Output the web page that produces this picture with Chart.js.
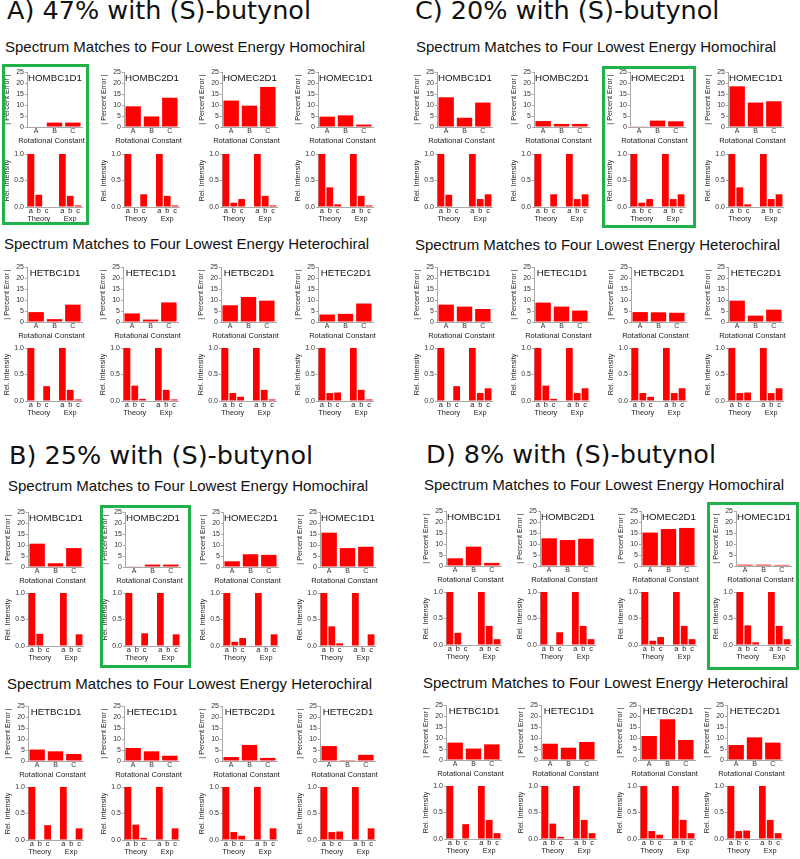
<!DOCTYPE html>
<html>
<head>
<meta charset="utf-8">
<script src="https://cdn.jsdelivr.net/npm/chart.js@4.4.1/dist/chart.umd.min.js"></script>
<style>
  html, body { margin:0; padding:0; background:#fff; }
  #root { position:relative; width:800px; height:859px; overflow:hidden; background:#fff; }
  .ttl { position:absolute; font-family:'DejaVu Sans', Verdana, sans-serif; font-size:25.5px; line-height:25.5px; color:#111; white-space:nowrap; }
  .sub { position:absolute; font-family:'Liberation Sans', Arial, sans-serif; font-size:15px; line-height:15px; color:#111; white-space:nowrap; }
  .nm { position:absolute; font-family:'Liberation Sans', Arial, sans-serif; font-size:9.7px; line-height:9.7px; color:#111; white-space:nowrap; width:80px; text-align:center; }
  .rc { position:absolute; font-family:'Liberation Sans', Arial, sans-serif; font-size:7.6px; line-height:7.6px; color:#222; white-space:nowrap; width:90px; text-align:center; }
  .box { position:absolute; border:3px solid #22b24c; box-sizing:border-box; }
  canvas { position:absolute; }
</style>
</head>
<body>
<div id="root"></div>
<script>
// ---------------- data ----------------
const panelTitles = ['A) 47% with (S)-butynol', 'B) 25% with (S)-butynol', 'C) 20% with (S)-butynol', 'D) 8% with (S)-butynol'];
const homoSubtitle = 'Spectrum Matches to Four Lowest Energy Homochiral';
const heteroSubtitle = 'Spectrum Matches to Four Lowest Energy Heterochiral';
const homoNames = ['HOMBC1D1', 'HOMBC2D1', 'HOMEC2D1', 'HOMEC1D1'];
const heteroNames = ['HETBC1D1', 'HETEC1D1', 'HETBC2D1', 'HETEC2D1'];
const rotConstants = ['A', 'B', 'C'];
const lineLabels = ['a', 'b', 'c'];
const groupLabels = ['Theory', 'Exp'];
const errorTicks = [0, 5, 10, 15, 20, 25];
const intensityTicks = [0, 0.5, 1];

// theoretical relative intensities (a, b, c) of each conformer
const theoryHomo = [[1, 0.23, 0.01], [1, 0, 0.24], [1, 0.08, 0.15], [1, 0.37, 0.05]];
const theoryHetero = [[1, 0, 0.28], [1, 0.29, 0.04], [1, 0.15, 0.08], [1, 0.15, 0.16]];

// experimental relative intensities (a, b, c) of each mixture
const expA = [1, 0.21, 0.03];
const expB = [1, 0, 0.22];
const expC = [1, 0.15, 0.24];
const expD = [1, 0.36, 0.11];

// |percent error| of rotational constants A, B, C
const errHomoA = [[0.2, 2.0, 2.0], [9.4, 4.8, 13.3], [12.0, 9.7, 18.2], [4.7, 5.3, 1.1]];
const errHeteroA = [[4.5, 1.3, 7.9], [3.9, 1.1, 8.9], [7.6, 11.4, 9.7], [3.4, 3.7, 8.4]];
const errHomoB = [[10.6, 1.7, 8.6], [0.3, 1.1, 1.1], [2.6, 5.8, 5.5], [15.6, 8.6, 9.2]];
const errHeteroB = [[5.2, 4.4, 3.2], [5.9, 4.4, 2.4], [1.8, 7.3, 1.4], [6.8, 0.4, 2.8]];
const errHomoC = [[13.5, 4.2, 11.1], [2.7, 1.4, 1.4], [0.3, 2.9, 2.6], [18.5, 11.1, 11.7]];
const errHeteroC = [[7.9, 7.0, 5.9], [8.8, 7.0, 5.2], [4.5, 4.4, 4.2], [9.7, 2.9, 5.6]];
const errHomoD = [[3.5, 8.8, 1.4], [12.6, 11.8, 12.4], [15.2, 16.8, 17.3], [0.6, 0.6, 0.5]];
const errHeteroD = [[7.9, 5.2, 7.1], [7.4, 5.6, 8.2], [10.9, 18.5, 9.1], [6.8, 10.3, 7.9]];

// best matching homochiral conformer (index) for each mixture A, B, C, D
const bestMatch = [0, 1, 2, 3];

// ---------------- layout ----------------
const panels = [
  { title: panelTitles[0], exp: expA, homo: errHomoA, het: errHeteroA, best: bestMatch[0],
    x0: 0, titleX: 7, titleBase: 20, subX: 5, subBase: 52, hSubX: 4, hSubBase: 249,
    L: [27, 124, 222, 318], LH: [27, 123, 221, 318], pt: 72, it: 154, hpt: 267, hit: 348, box: [2, 64, 87, 161] },
  { title: panelTitles[1], exp: expB, homo: errHomoB, het: errHeteroB, best: bestMatch[1],
    x0: 0, titleX: 9, titleBase: 465, subX: 8, subBase: 491, hSubX: 7, hSubBase: 689,
    L: [28, 125, 223, 320], LH: [28, 124, 222, 320], pt: 512, it: 593, hpt: 706, hit: 787, box: [100, 505, 91, 163] },
  { title: panelTitles[2], exp: expC, homo: errHomoC, het: errHeteroC, best: bestMatch[2],
    x0: 400, titleX: 15, titleBase: 20, subX: 16, subBase: 52, hSubX: 15, hSubBase: 250,
    L: [37, 134, 230, 328], LH: [37, 134, 231, 328], pt: 72, it: 154, hpt: 267, hit: 348, box: [602, 66, 94, 162] },
  { title: panelTitles[3], exp: expD, homo: errHomoD, het: errHeteroD, best: bestMatch[3],
    x0: 400, titleX: 26, titleBase: 464, subX: 24, subBase: 490, hSubX: 23, hSubBase: 688,
    L: [46, 140, 241, 336], LH: [46, 141, 240, 327], pt: 511, it: 592, hpt: 705, hit: 786, box: [707, 502, 92, 168] }
];

const RED = '#ff0000';
const AXIS = '#a8a8a8';
const TICK = '#333';
const FONT = "'Liberation Sans', Arial, sans-serif";
Chart.defaults.font.family = FONT;

const root = document.getElementById('root');

function addDiv(cls, text, left, top) {
  const d = document.createElement('div');
  d.className = cls;
  d.textContent = text;
  d.style.left = left + 'px';
  d.style.top = top + 'px';
  root.appendChild(d);
  return d;
}
function addCanvas(left, top, w, h) {
  const c = document.createElement('canvas');
  c.width = w; c.height = h;
  c.style.left = left + 'px'; c.style.top = top + 'px';
  c.style.width = w + 'px'; c.style.height = h + 'px';
  root.appendChild(c);
  return c;
}

const PLOT_W = 55, Y_W = 27, PAD_TOP = 6;

function yScale(max, step, titleText, fmt) {
  return {
    min: 0, max: max,
    afterFit: s => { s.width = Y_W; },
    grid: { display: true, drawOnChartArea: false, drawTicks: true, tickLength: 2, color: AXIS },
    border: { display: true, color: AXIS, width: 1 },
    ticks: { stepSize: step, autoSkip: false, font: { size: 7 }, color: TICK, padding: 1, callback: fmt },
    title: { display: true, text: titleText, font: { size: 7.2 }, color: '#222', padding: { top: 3, bottom: 0 } }
  };
}

function errorChart(left, top, values) {
  const h = PAD_TOP + 55 + 20;
  const c = addCanvas(left, top - PAD_TOP, Y_W + PLOT_W + 8, h);
  new Chart(c, {
    type: 'bar',
    data: { labels: rotConstants, datasets: [{ data: values, backgroundColor: RED, borderWidth: 0, barPercentage: 0.84, categoryPercentage: 1 }] },
    options: {
      responsive: false, animation: false, events: [],
      layout: { padding: { top: PAD_TOP, right: 8, left: 0, bottom: 0 } },
      plugins: { legend: { display: false }, tooltip: { enabled: false }, title: { display: false } },
      scales: {
        x: {
          afterFit: s => { s.height = 20; },
          grid: { display: false, drawTicks: false },
          border: { display: true, color: AXIS, width: 1 },
          ticks: { font: { size: 7 }, color: TICK, padding: 0, autoSkip: false, maxRotation: 0, minRotation: 0 }
        },
        y: yScale(errorTicks[errorTicks.length - 1], errorTicks[1] - errorTicks[0], '| Percent Error |', v => String(v))
      }
    }
  });
}

function intensityChart(left, top, theory, exp) {
  const h = PAD_TOP + 53 + 24;
  const c = addCanvas(left, top - PAD_TOP, Y_W + PLOT_W + 8, h);
  const labels = [
    lineLabels[0], [lineLabels[1], groupLabels[0]], lineLabels[2], '',
    lineLabels[0], [lineLabels[1], groupLabels[1]], lineLabels[2]
  ];
  const data = theory.concat([null], exp);
  new Chart(c, {
    type: 'bar',
    data: { labels: labels, datasets: [{ data: data, backgroundColor: RED, borderWidth: 0, barPercentage: 0.86, categoryPercentage: 1 }] },
    options: {
      responsive: false, animation: false, events: [],
      layout: { padding: { top: PAD_TOP, right: 8, left: 0, bottom: 0 } },
      plugins: { legend: { display: false }, tooltip: { enabled: false }, title: { display: false } },
      scales: {
        x: {
          afterFit: s => { s.height = 24; },
          grid: { display: false, drawTicks: false },
          border: { display: true, color: AXIS, width: 1 },
          ticks: { font: { size: 7.4, lineHeight: 1.1 }, color: '#222', padding: 0, autoSkip: false, maxRotation: 0, minRotation: 0 }
        },
        y: yScale(intensityTicks[intensityTicks.length - 1], intensityTicks[1] - intensityTicks[0], 'Rel. Intensity', v => Number(v).toFixed(1))
      }
    }
  });
}

function subplot(x, pt, it, name, errors, theory, exp) {
  errorChart(x - Y_W, pt, errors);
  addDiv('nm', name, x + 28 - 40, pt + 0.5);
  addDiv('rc', 'Rotational Constant', x + 24.5 - 45, pt + 65);
  intensityChart(x - Y_W, it, theory, exp);
}

panels.forEach(p => {
  addDiv('ttl', p.title, p.x0 + p.titleX, p.titleBase - 21.6);
  addDiv('sub', homoSubtitle, p.x0 + p.subX, p.subBase - 12.7);
  addDiv('sub', heteroSubtitle, p.x0 + p.hSubX, p.hSubBase - 12.7);
  for (let i = 0; i < 4; i++) {
    subplot(p.x0 + p.L[i], p.pt, p.it, homoNames[i], p.homo[i], theoryHomo[i], p.exp);
    subplot(p.x0 + p.LH[i], p.hpt, p.hit, heteroNames[i], p.het[i], theoryHetero[i], p.exp);
  }
  const b = document.createElement('div');
  b.className = 'box';
  b.style.left = p.box[0] + 'px'; b.style.top = p.box[1] + 'px';
  b.style.width = p.box[2] + 'px'; b.style.height = p.box[3] + 'px';
  root.appendChild(b);
});
</script>
</body>
</html>
